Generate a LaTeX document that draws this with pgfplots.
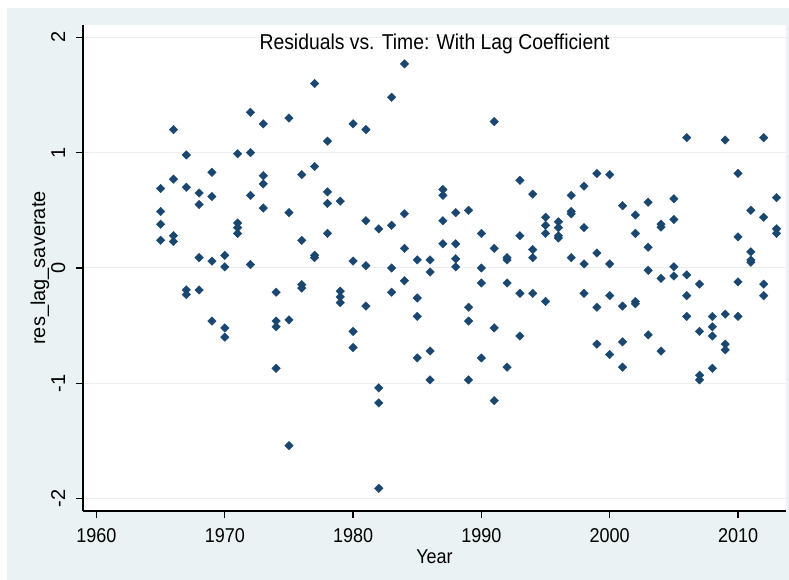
\documentclass[border=0pt]{standalone}
\usepackage{pgfplots}
\pgfplotsset{compat=1.18}
\usepackage{pgfplotstable}
\usepackage{fontspec}
\setmainfont{Liberation Sans}[FakeStretch=0.9]
\newfontfamily\rotfont{Liberation Sans}

\definecolor{graphbg}{RGB}{234,242,243}
\definecolor{stnavy}{RGB}{26,71,111}
\definecolor{gridc}{RGB}{236,238,238}

% residuals of the lagged savings-rate model, four per year
\pgfplotstableread{
year res
1965 0.69
1965 0.49
1965 0.38
1965 0.24
1966 1.20
1966 0.77
1966 0.28
1966 0.23
1967 0.98
1967 0.70
1967 -0.19
1967 -0.23
1968 0.65
1968 0.55
1968 0.09
1968 -0.19
1969 0.83
1969 0.62
1969 0.06
1969 -0.46
1970 0.11
1970 0.01
1970 -0.52
1970 -0.60
1971 0.99
1971 0.39
1971 0.35
1971 0.30
1972 1.35
1972 1.00
1972 0.63
1972 0.03
1973 1.25
1973 0.80
1973 0.73
1973 0.52
1974 -0.21
1974 -0.46
1974 -0.51
1974 -0.87
1975 1.30
1975 0.48
1975 -0.45
1975 -1.54
1976 0.81
1976 0.24
1976 -0.145
1976 -0.175
1977 1.60
1977 0.88
1977 0.11
1977 0.09
1978 1.10
1978 0.66
1978 0.56
1978 0.30
1979 0.58
1979 -0.20
1979 -0.25
1979 -0.30
1980 1.25
1980 0.06
1980 -0.55
1980 -0.69
1981 1.20
1981 0.41
1981 0.02
1981 -0.33
1982 0.34
1982 -1.04
1982 -1.17
1982 -1.91
1983 1.48
1983 0.37
1983 0.00
1983 -0.21
1984 1.77
1984 0.47
1984 0.17
1984 -0.11
1985 0.07
1985 -0.26
1985 -0.42
1985 -0.78
1986 0.07
1986 -0.035
1986 -0.72
1986 -0.97
1987 0.68
1987 0.63
1987 0.41
1987 0.21
1988 0.48
1988 0.21
1988 0.08
1988 0.01
1989 0.50
1989 -0.34
1989 -0.46
1989 -0.97
1990 0.30
1990 0.00
1990 -0.13
1990 -0.78
1991 1.27
1991 0.17
1991 -0.52
1991 -1.15
1992 0.09
1992 0.07
1992 -0.13
1992 -0.86
1993 0.76
1993 0.28
1993 -0.22
1993 -0.59
1994 0.64
1994 0.16
1994 0.09
1994 -0.22
1995 0.44
1995 0.37
1995 0.30
1995 -0.29
1996 0.40
1996 0.35
1996 0.28
1996 0.26
1997 0.63
1997 0.49
1997 0.47
1997 0.09
1998 0.71
1998 0.35
1998 0.035
1998 -0.22
1999 0.82
1999 0.13
1999 -0.34
1999 -0.66
2000 0.81
2000 0.035
2000 -0.24
2000 -0.75
2001 0.54
2001 -0.33
2001 -0.64
2001 -0.86
2002 0.46
2002 0.30
2002 -0.29
2002 -0.31
2003 0.57
2003 0.18
2003 -0.02
2003 -0.58
2004 0.38
2004 0.355
2004 -0.09
2004 -0.72
2005 0.60
2005 0.42
2005 0.01
2005 -0.07
2006 1.13
2006 -0.06
2006 -0.24
2006 -0.42
2007 -0.14
2007 -0.55
2007 -0.93
2007 -0.97
2008 -0.42
2008 -0.51
2008 -0.59
2008 -0.87
2009 1.11
2009 -0.40
2009 -0.66
2009 -0.71
2010 0.82
2010 0.27
2010 -0.12
2010 -0.42
2011 0.50
2011 0.14
2011 0.07
2011 0.05
2012 1.13
2012 0.44
2012 -0.14
2012 -0.24
2013 0.61
2013 0.34
2013 0.30
}\residuals

\begin{document}
\begin{tikzpicture}[x=1pt,y=1pt]
% graph region
\path[fill=white] (0,0) rectangle (789,580);
\path[fill=graphbg] (7,0) rectangle (789,572);
\begin{axis}[
  at={(83pt,69pt)}, anchor=south west,
  width=703pt, height=486pt, scale only axis,
  xmin=1958.95, xmax=2013.74,
  ymin=-2.107, ymax=2.107,
  axis background/.style={fill=white},
  axis x line*=bottom, axis y line*=left,
  axis line style={black, line width=1.3pt},
  xtick={1960,1970,...,2010},
  ytick={-2,-1,0,1,2},
  tick align=outside, major tick length=7pt,
  tick style={black, line width=1.2pt},
  ymajorgrids, grid style={gridc, line width=1pt},
  /pgf/number format/assume math mode=true,
  /pgf/number format/1000 sep={},
  xticklabel style={font=\fontsize{20}{24}\selectfont, anchor=base, yshift=-24pt},
  yticklabel style={font=\rotfont\fontsize{20}{24}\selectfont, rotate=90, anchor=base, yshift=11pt},
  title={Residuals vs. Time: With Lag Coefficient},
  title style={font=\fontsize{21.5}{26}\selectfont, at={(axis description cs:0.5,1)}, anchor=base, yshift=-31pt},
  xlabel={Year},
  xlabel style={font=\fontsize{20}{24}\selectfont, at={(axis description cs:0.5,0)}, anchor=base, yshift=-53pt},
  ylabel={res\_lag\_saverate},
  ylabel style={font=\rotfont\fontsize{20}{24}\selectfont, at={(axis description cs:0,0.5)}, anchor=base, yshift=38pt},
]
\addplot[only marks, mark=square*, mark size=3pt,
  mark options={rotate=45, fill=stnavy, draw=stnavy}]
  table[x=year, y=res] {\residuals};
\end{axis}
\end{tikzpicture}
\end{document}
